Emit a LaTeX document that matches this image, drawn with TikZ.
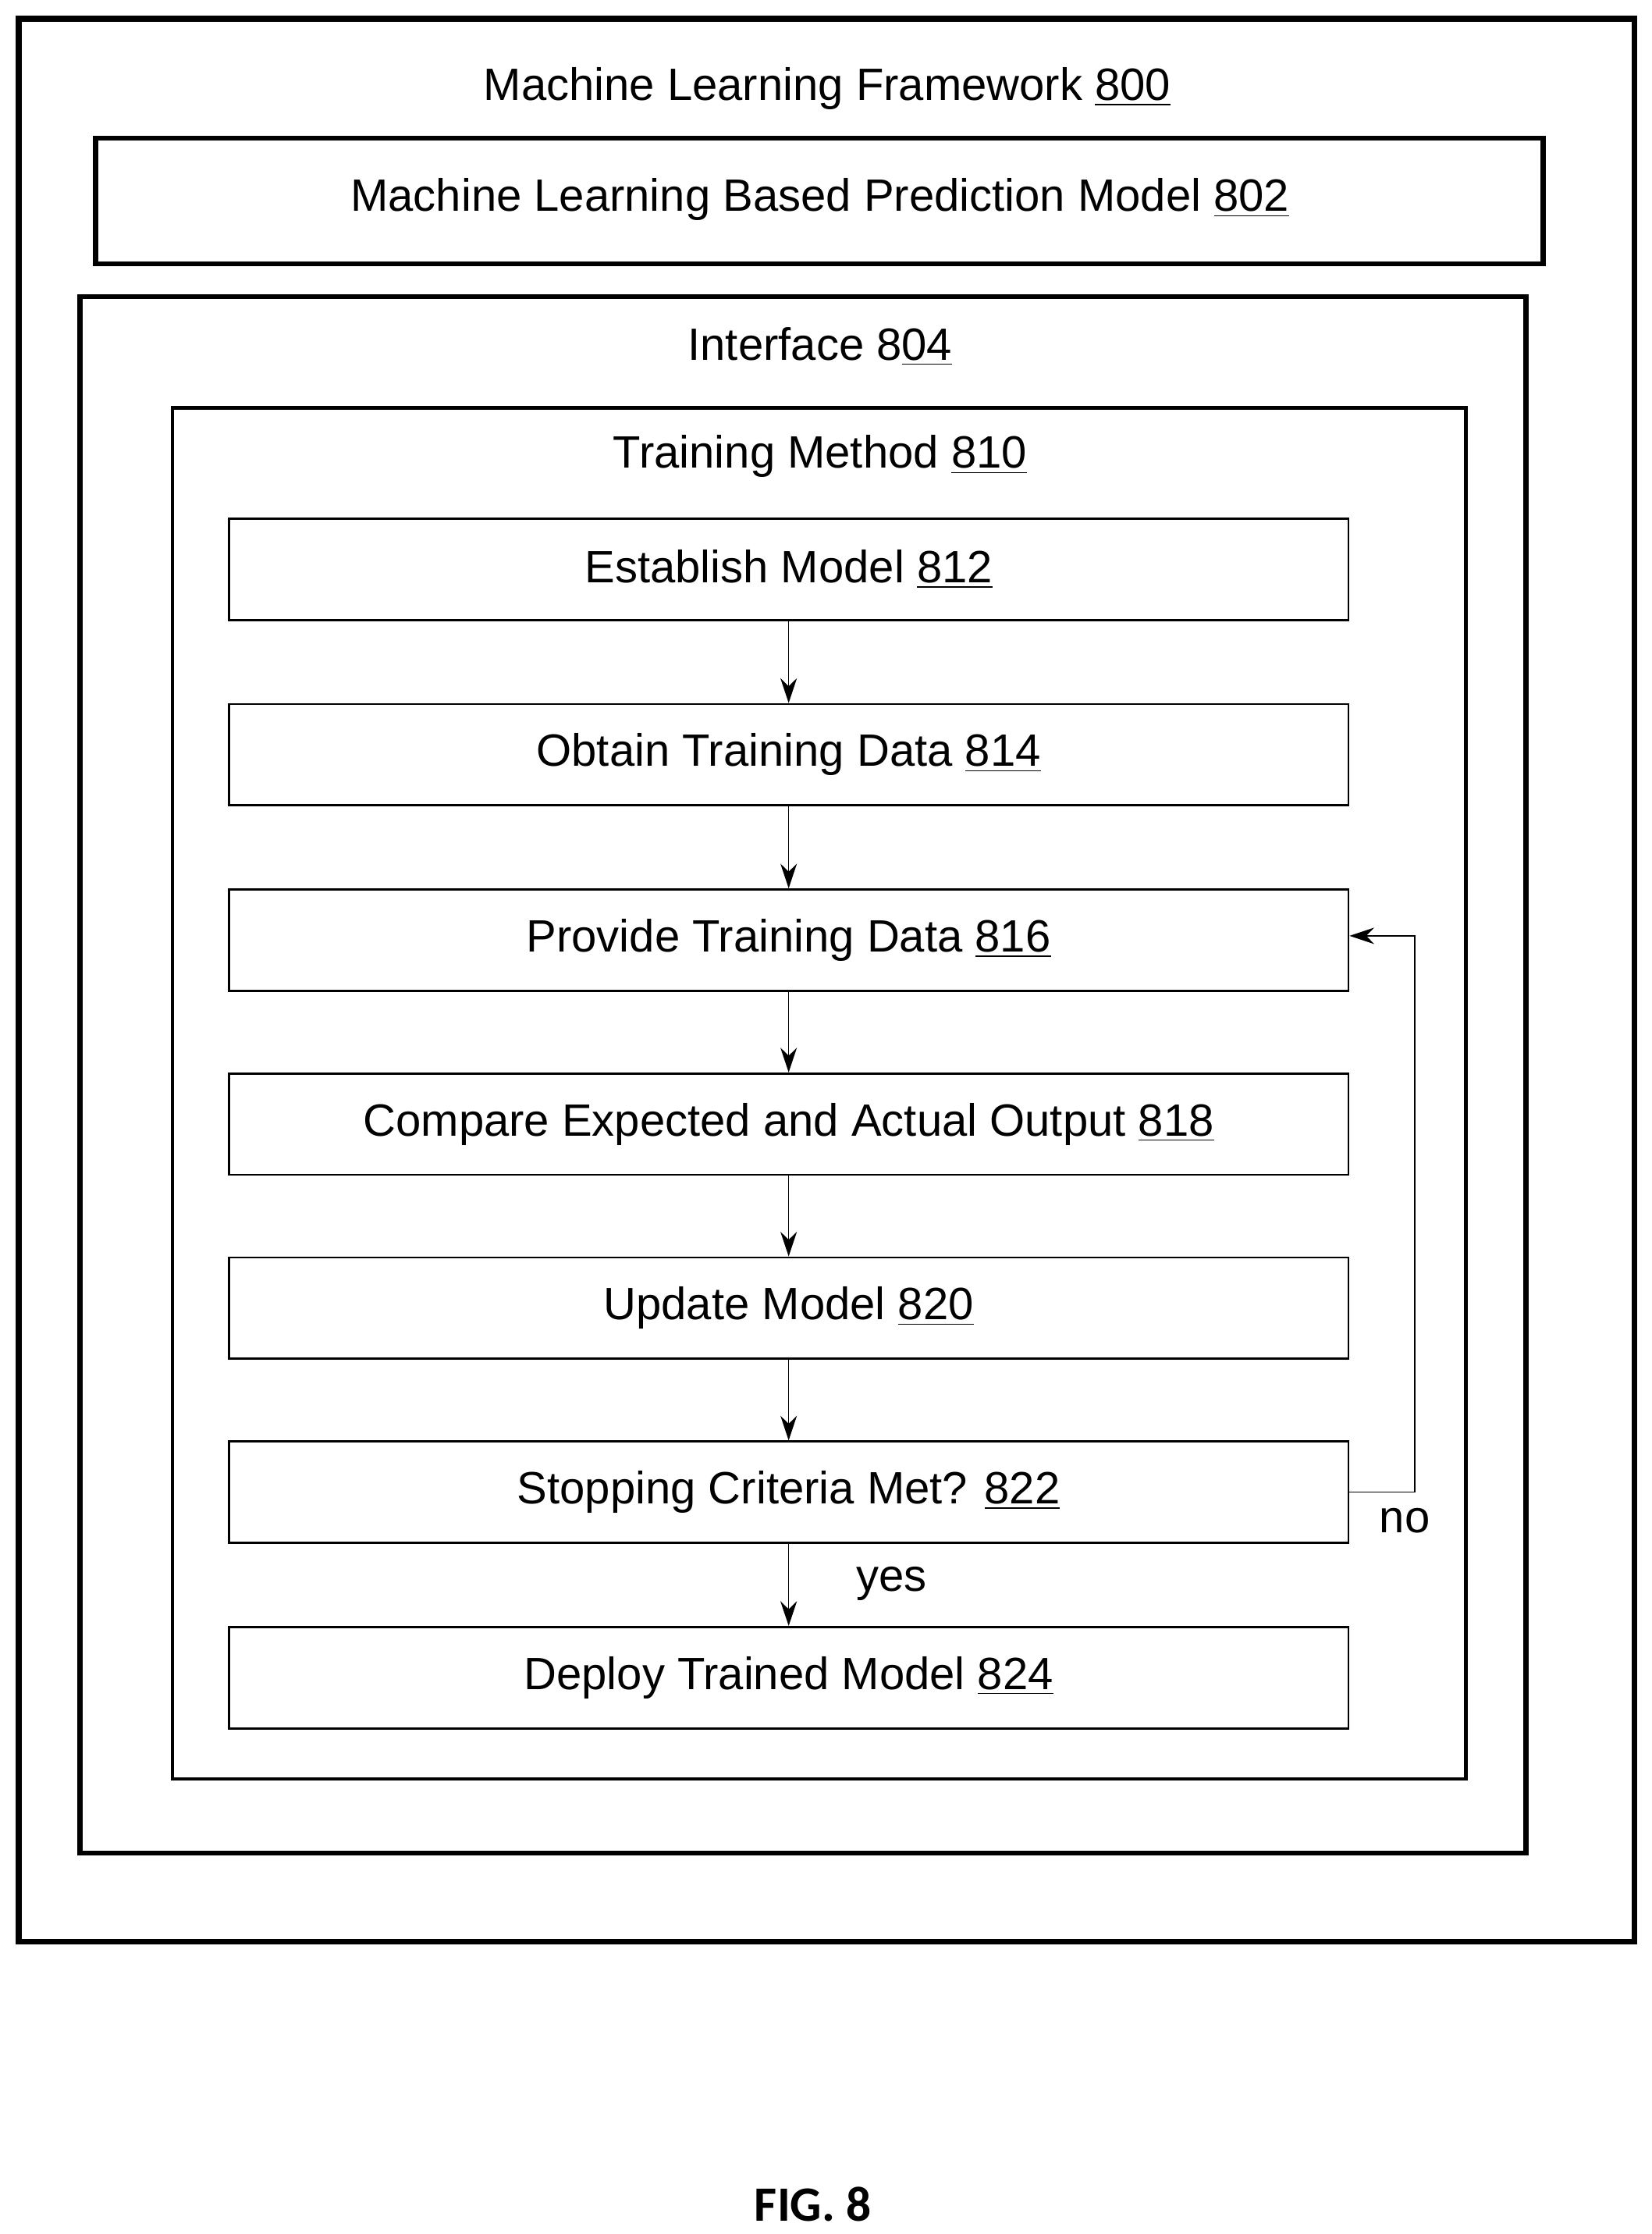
\documentclass[tikz,border=0pt]{standalone}
\usepackage{fontspec}
\setmainfont{Liberation Sans}
\newfontfamily\figfont{Carlito}
\usetikzlibrary{positioning,arrows.meta}

\begin{document}
\begin{tikzpicture}[x=0.01827cm,y=-0.01827cm,
  font=\fontsize{16.5}{19}\selectfont,
  stepbox/.style={draw, thick, minimum width=785*0.01827cm, minimum height=71*0.01827cm, inner sep=0pt},
  flow/.style={-{Stealth[length=9pt,width=6pt]}, thin}]
\useasboundingbox (0,0) rectangle (1158,1566);

% containers
\draw [line width=2.2pt] (13,13) rectangle (1146,1361);
\node at (580,62) {Machine Learning Framework \underline{800}};
\draw [line width=1.8pt] (67,97) rectangle (1082,185);
\node (model) at (575,140) {Machine Learning Based Prediction Model \underline{802}};
\draw [line width=1.8pt] (56,208) rectangle (1070,1299);
\node at (575,243) {Interface 8\underline{04}};
\draw [line width=1.3pt] (121,286) rectangle (1028,1247);
\node at (575,320) {Training Method \underline{810}};

% steps
\node [stepbox] (establish) at (553,399) {Establish Model \underline{812}};
\node [stepbox] (obtain)  at (553,529) {Obtain Training Data \underline{814}};
\node [stepbox] (provide) at (553,659) {Provide Training Data \underline{816}};
\node [stepbox] (compare) at (553,788) {Compare Expected and Actual Output \underline{818}};
\node [stepbox] (update)  at (553,917) {Update Model \underline{820}};
\node [stepbox] (stop)    at (553,1046) {Stopping Criteria Met? \underline{822}};
\node [stepbox] (deploy)  at (553,1176) {Deploy Trained Model \underline{824}};

\draw [flow] (establish) -- (obtain);
\draw [flow] (obtain) -- (provide);
\draw [flow] (provide) -- (compare);
\draw [flow] (compare) -- (update);
\draw [flow] (update) -- (stop);
\draw [flow] (stop) -- (deploy);
\node (yes) at (625,1110) {yes};

% loop back
\coordinate (loop) at (992,656);
\draw [flow] (stop.east) -| (loop) -- (provide.east |- loop);
\node (no) at (985,1066) {no};

\node [font=\figfont\bfseries\fontsize{18}{21}\selectfont] (fig) at (570,1545) {FIG. 8};
\end{tikzpicture}
\end{document}
